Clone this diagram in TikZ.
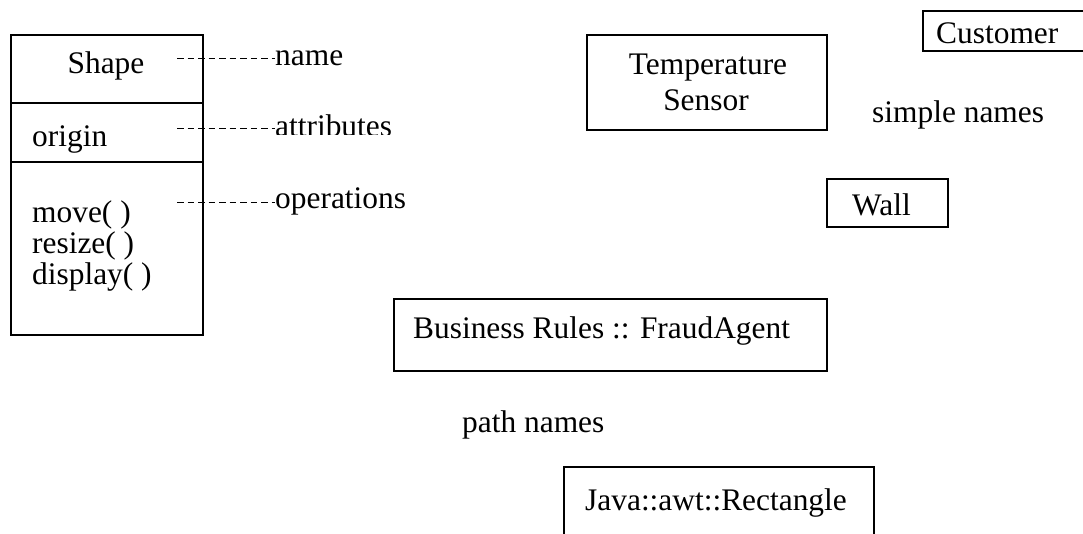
\documentclass[tikz,border=0pt]{standalone}
\usepackage{fontspec}
\setmainfont{Liberation Serif}
\begin{document}
\begin{tikzpicture}[x=1pt,y=-1pt,
  box/.style={draw, line width=1.6pt, inner sep=0pt, anchor=north west},
  lbl/.style={font=\fontsize{31.4}{31}\selectfont, inner sep=0pt, anchor=base west},
  clbl/.style={lbl, anchor=base},
  leader/.style={line width=1pt, dash pattern=on 6.5pt off 4pt}]
\clip (0,0) rectangle (1083,533);
\fill[white] (0,0) rectangle (1083,533);

% class box with three compartments
\node[box, minimum width=192pt, minimum height=300pt] (shape) at (10,34) {};
\draw[line width=1.6pt] (shape.west |- 0,103) coordinate (d1w) -- (d1w -| shape.east);
\draw[line width=1.6pt] (shape.west |- 0,162) coordinate (d2w) -- (d2w -| shape.east);
\node[clbl] (shapename) at (106,73) {Shape};
\node[lbl] (origin) at (32,146) {origin};
\node[lbl] (mv) at (32,222) {move( )};
\node[lbl] (rs) at (32,253) {resize( )};
\node[lbl] (dp) at (32,284) {display( )};

% compartment labels with dashed leaders
\node[lbl] (name) at (275,65) {name};
\begin{scope}
  \clip (260,100) rectangle (420,134);
  \node[lbl] (attr) at (275,136) {attributes};
\end{scope}
\node[lbl] (ops) at (275,208) {operations};
\coordinate (ln) at (177,58);
\coordinate (la) at (177,128);
\coordinate (lo) at (177,202);
\draw[leader] (ln) -- (ln -| name.west);
\draw[leader] (la) -- (la -| attr.west);
\draw[leader] (lo) -- (lo -| ops.west);

% simple names
\node[box, minimum width=240pt, minimum height=95pt] (temp) at (586,34) {};
\node[clbl] (temp1) at (708,74) {Temperature};
\node[clbl] (temp2) at (706,110) {Sensor};
\node[box, minimum width=200pt, minimum height=40pt] (cust) at (922,10) {};
\node[lbl] (custname) at (936,43) {Customer};
\node[lbl] (simple) at (872,122) {simple names};
\node[box, minimum width=121pt, minimum height=48pt] (wall) at (826,178) {};
\node[lbl] (wallname) at (852,215) {Wall};

% path names
\node[box, minimum width=433pt, minimum height=72pt] (fraud) at (393,298) {};
\node[lbl] (fraudname) at (413,338) {Business Rules :: FraudAgent};
\node[lbl] (path) at (462,432) {path names};
\node[box, minimum width=310pt, minimum height=100pt] (rect) at (563,466) {};
\node[lbl] (rectname) at (585,510) {Java::awt::Rectangle};
\end{tikzpicture}
\end{document}
